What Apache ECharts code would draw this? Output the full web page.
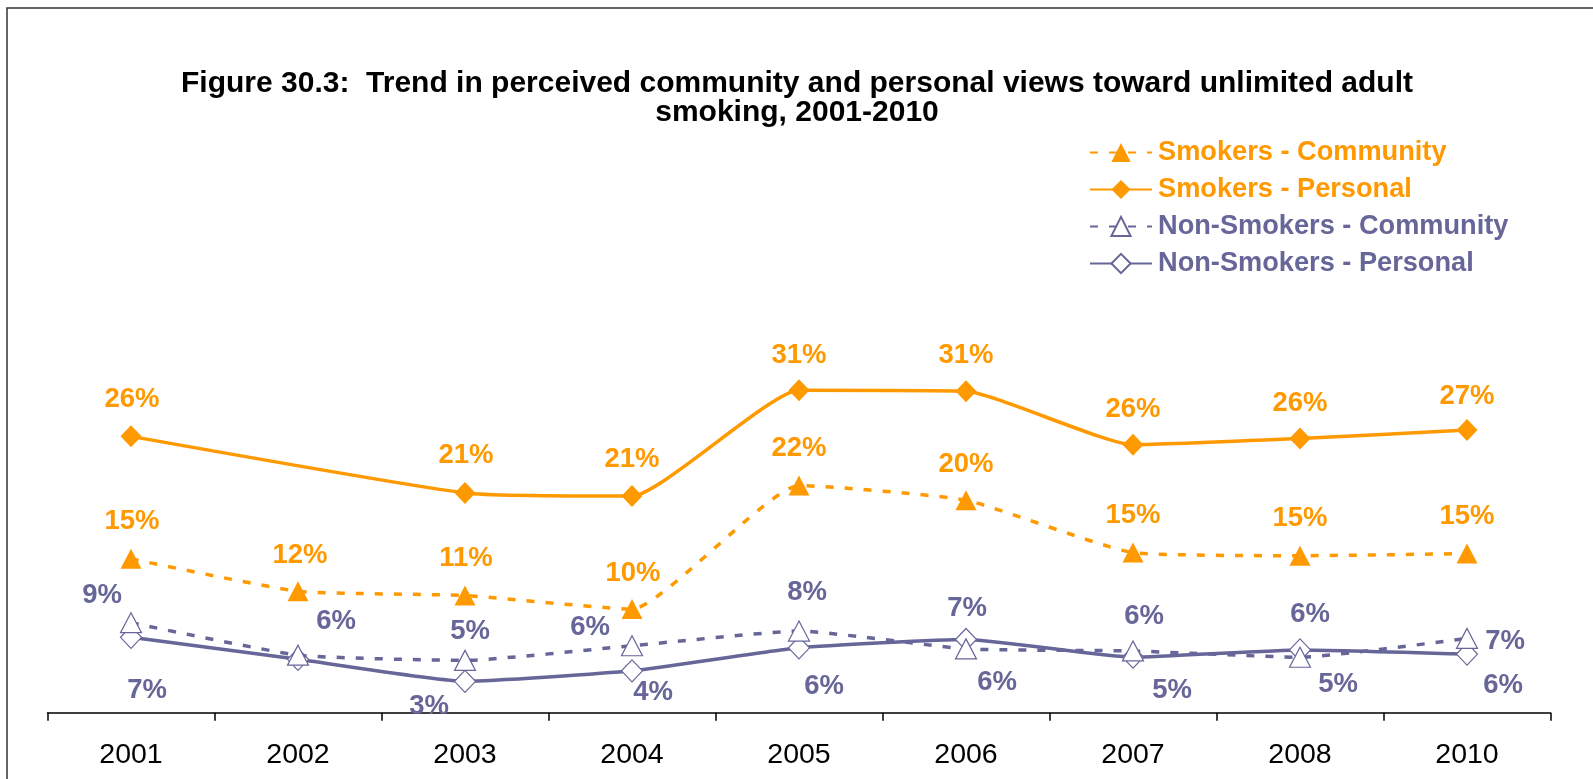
<!DOCTYPE html>
<html>
<head>
<meta charset="utf-8">
<script src="https://cdn.jsdelivr.net/npm/echarts@6/dist/echarts.min.js"></script>
<style>
html,body{margin:0;padding:0;background:#fff;}
#chart{width:1593px;height:779px;}
</style>
</head>
<body>
<div id="chart"></div>
<script>
// ---- data ----
var categories = ['2001','2002','2003','2004','2005','2006','2007','2008','2010'];
var smokersCommunity = [14.7, 11.6, 11.2, 9.9, 21.7, 20.3, 15.3, 15.0, 15.2];
var smokersPersonal = [26.4, null, 21.0, 20.7, 30.8, 30.7, 25.6, 26.2, 27.0];
var nonSmokersCommunity = [8.6, 5.5, 5.0, 6.4, 7.8, 6.1, 5.9, 5.3, 7.1];
var nonSmokersPersonal = [7.2, 5.1, 3.0, 4.0, 6.2, 7.0, 5.3, 6.0, 5.6];
var seriesNames = ['Smokers - Community','Smokers - Personal','Non-Smokers - Community','Non-Smokers - Personal'];
var titleText = 'Figure 30.3:  Trend in perceived community and personal views toward unlimited adult\nsmoking, 2001-2010';

// ---- label placement (style) ----
var offSC = [[1,-37],[2,-36],[1,-37],[1,-36],[0,-37],[0,-36],[0,-37],[0,-37],[0,-37]];
var offSP = [[1,-37],[0,0],[1,-37],[0,-37],[0,-35],[0,-36],[0,-35],[0,-35],[0,-34]];
var offNC = [[-29,-27],[38,-34],[5,-29],[-42,-18],[8,-39],[31,34],[11,-35],[38,27],[38,3]];
var offNP = [[16,53],[0,0],[-36,25],[21,22],[25,39],[1,-31],[39,33],[10,-35],[36,31]];
var hideNP = [false,true,false,false,false,false,false,false,false];

var ORANGE = '#FF9900', PURPLE = '#666699';
var FONT = '"Liberation Sans", Arial, sans-serif';

function fmt(p){ return Math.round(p.value) + '%'; }

function buildData(vals, offs, hide){
  return vals.map(function(v,i){
    return {
      value: v === null ? '-' : v,
      label: { offset: offs[i], show: !(hide && hide[i]) }
    };
  });
}

function labelCfg(color){
  return { show:true, position:'inside', formatter: fmt, color: color,
    fontFamily: FONT, fontWeight:'bold', fontSize:27.5 };
}

var chart = echarts.init(document.getElementById('chart'), null, {renderer:'canvas'});
var option = {
  backgroundColor:'#fff',
  animation:false,
  title:{
    text: titleText, left:797, top:69, padding:0, textAlign:'center',
    textStyle:{ fontFamily:FONT, fontWeight:'bold', fontSize:30, lineHeight:29, color:'#000' }
  },
  legend:{
    orient:'vertical', left:1089, top:139, padding:0, itemWidth:62, itemHeight:24, itemGap:10,
    data: [
      {name: seriesNames[0], textStyle:{color:ORANGE}},
      {name: seriesNames[1], textStyle:{color:ORANGE}},
      {name: seriesNames[2], textStyle:{color:PURPLE}},
      {name: seriesNames[3], textStyle:{color:PURPLE}}
    ],
    textStyle:{ fontFamily:FONT, fontWeight:'bold', fontSize:27.2, padding:[0,0,0,1] }
  },
  graphic:[{
    type:'rect', shape:{x:7, y:8, width:1700, height:900},
    style:{fill:'none', stroke:'#333', lineWidth:1.5}, silent:true
  }],
  grid:{ left:47.5, right:42.5, top:294, bottom:60 },
  xAxis:{
    type:'category', data:categories, boundaryGap:true,
    axisLine:{ lineStyle:{ color:'#000', width:1.5 } },
    axisTick:{ show:true, length:8, lineStyle:{ color:'#000', width:1.5 } },
    axisLabel:{ color:'#000', fontFamily:FONT, fontSize:28.5, margin:22 },
    splitLine:{show:false}
  },
  yAxis:{ type:'value', min:-0.6, max:40, show:false, splitLine:{show:false} },
  series:[
    {
      name: seriesNames[0], type:'line', smooth:0.15,
      data: buildData(smokersCommunity, offSC),
      symbol:'triangle', symbolSize:[21,20],
      lineStyle:{ color:ORANGE, width:3.5, type:[8,11] },
      itemStyle:{ color:ORANGE },
      label: labelCfg(ORANGE), z:3
    },
    {
      name: seriesNames[1], type:'line', smooth:0.15, connectNulls:true,
      data: buildData(smokersPersonal, offSP),
      symbol:'diamond', symbolSize:[21,22],
      lineStyle:{ color:ORANGE, width:3.5 },
      itemStyle:{ color:ORANGE },
      label: labelCfg(ORANGE), z:4
    },
    {
      name: seriesNames[2], type:'line', smooth:0.15,
      data: buildData(nonSmokersCommunity, offNC),
      symbol:'triangle', symbolSize:[21,20], showAllSymbol:true,
      lineStyle:{ color:PURPLE, width:3.5, type:[8,11] },
      itemStyle:{ color:'#fff', borderColor:PURPLE, borderWidth:1.2 },
      label: labelCfg(PURPLE), z:2
    },
    {
      name: seriesNames[3], type:'line', smooth:0.15,
      data: buildData(nonSmokersPersonal, offNP, hideNP),
      symbol:'diamond', symbolSize:[21,22], showAllSymbol:true,
      lineStyle:{ color:PURPLE, width:3.5 },
      itemStyle:{ color:'#fff', borderColor:PURPLE, borderWidth:1.2 },
      label: labelCfg(PURPLE), z:1
    }
  ]
};
chart.setOption(option);
</script>
</body>
</html>
